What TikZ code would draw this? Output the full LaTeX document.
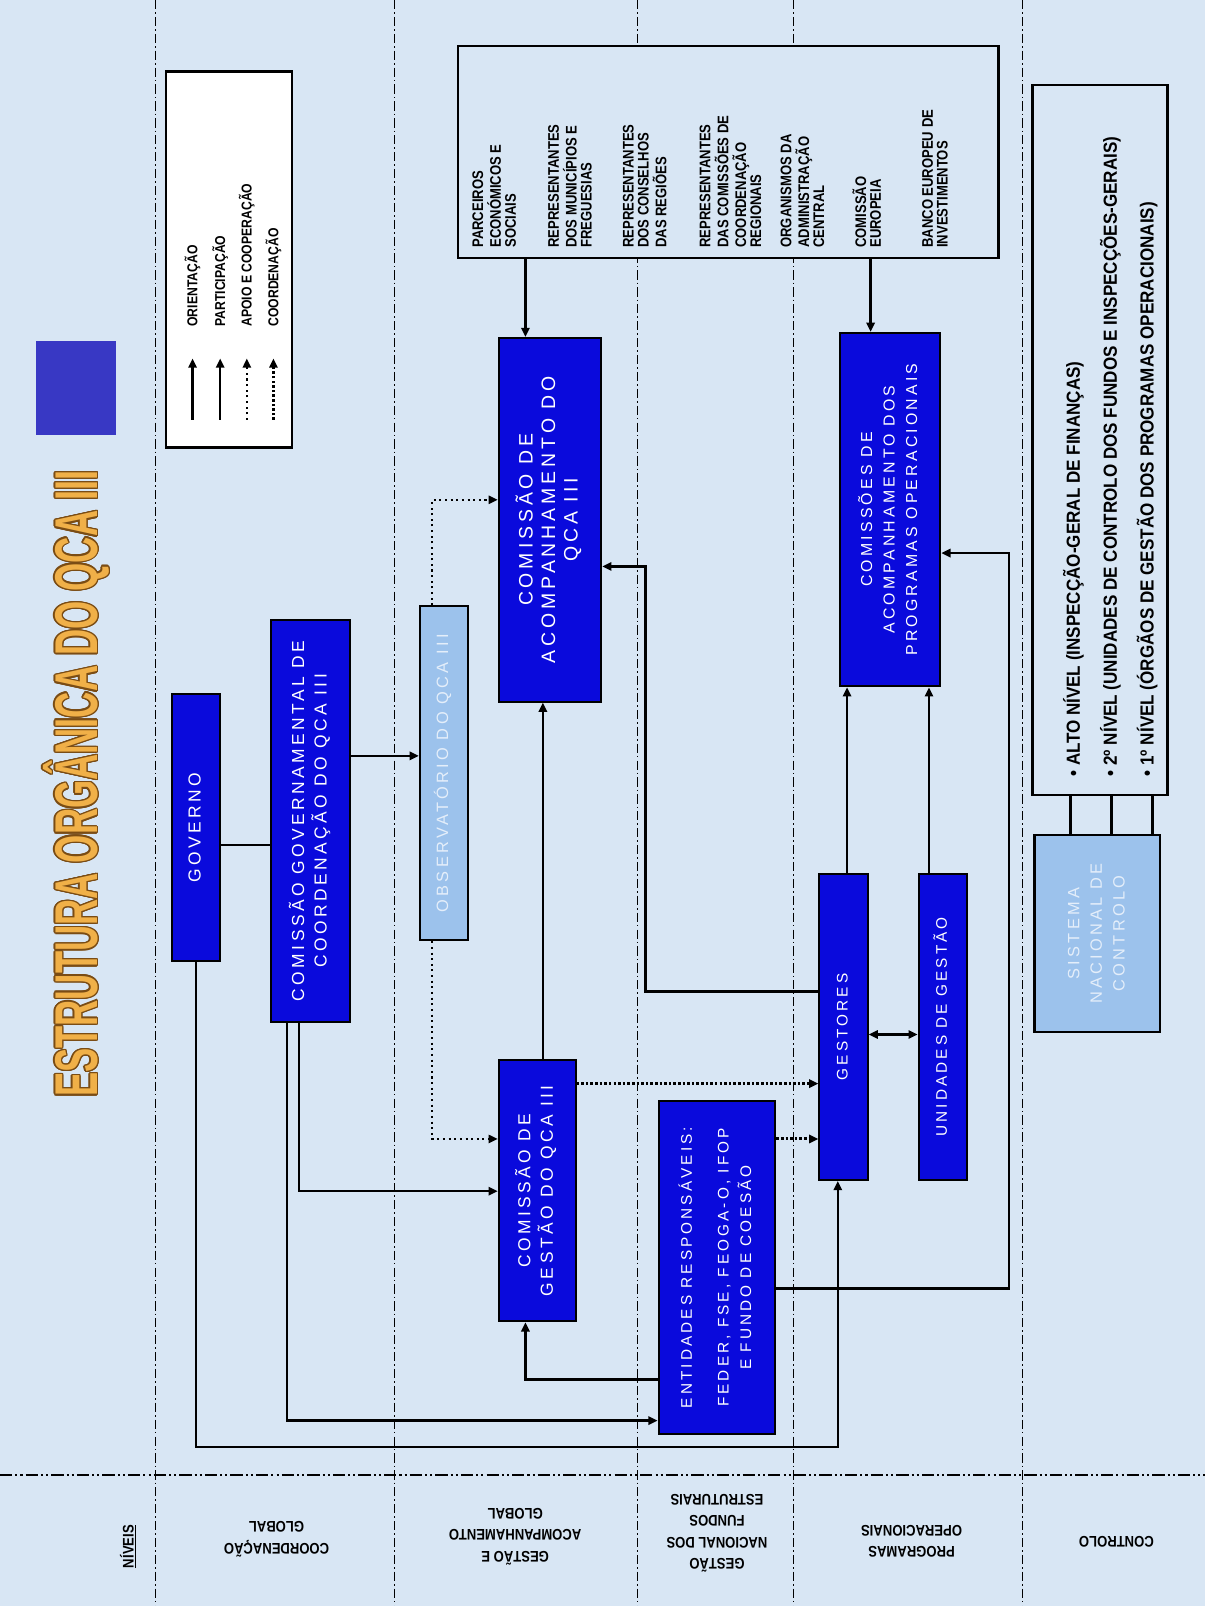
\documentclass[tikz,border=0pt]{standalone}
\usepackage{fontspec}
\setmainfont{Liberation Sans}
\usepackage[copies]{contour}
\usetikzlibrary{positioning,arrows.meta}
\definecolor{bgblue}{HTML}{D8E6F4}
\definecolor{boxblue}{HTML}{0A0ADC}
\definecolor{paleblue}{HTML}{9CC2EC}
\definecolor{paletext}{HTML}{E4EEFA}
\definecolor{squareblue}{HTML}{3838C4}
\definecolor{titlefill}{HTML}{F0B048}
\definecolor{titleline}{HTML}{7A4C14}
\newfontfamily\boxfont[LetterSpace=20]{Liberation Sans}
\newfontfamily\narrowfont[FakeStretch=0.85]{Liberation Sans}
\newfontfamily\ctrlfont[FakeStretch=0.9]{Liberation Sans}
\newfontfamily\titlefont[FakeStretch=0.6]{Liberation Sans}
\newcommand{\vtxt}[1]{\rotatebox{90}{\begin{tabular}{@{}c@{}}#1\end{tabular}}}
\newcommand{\vtxtl}[1]{\rotatebox{90}{\begin{tabular}{@{}l@{}}#1\end{tabular}}}
\contourlength{1.3pt}

\begin{document}
\begin{tikzpicture}[x=1pt,y=-1pt,
  bluebox/.style={draw=black,line width=2pt,fill=boxblue,text=white,inner sep=0pt,
    font=\boxfont\fontsize{17}{22}\selectfont},
  palebox/.style={bluebox,fill=paleblue,text=paletext},
  framebox/.style={draw=black,line width=2.5pt,fill=bgblue,inner sep=0pt},
  small/.style={inner sep=0pt,font=\narrowfont\bfseries\fontsize{14}{13}\selectfont},
  partner/.style={small,anchor=south west,font=\narrowfont\bfseries\fontsize{15}{13.5}\selectfont},
  lvl/.style={inner sep=0pt,align=center,font=\narrowfont\bfseries\fontsize{15}{21}\selectfont},
  arr/.style={-{Triangle[length=9pt,width=8pt]},line width=2.4pt},
  darr/.style={{Triangle[length=9pt,width=8pt]}-{Triangle[length=9pt,width=8pt]},line width=2.4pt},
  link/.style={line width=2.4pt},
  apoio/.style={arr,line width=2pt,dash pattern=on 2pt off 3.5pt},
  coord/.style={arr,line width=3pt,dash pattern=on 2.5pt off 2pt},
  sep/.style={line width=0.8pt,dash pattern=on 9pt off 3pt on 1.5pt off 3pt},
  hsep/.style={line width=1.2pt,dash pattern=on 12pt off 3pt on 2pt off 3pt on 2pt off 3pt}]
  % background and levels
  \fill[bgblue] (0,0) rectangle (1176,1568);
  \useasboundingbox (0,0) rectangle (1176,1568);
  \draw[sep] (152,0) -- (152,1568);
  \draw[sep] (385,0) -- (385,1568);
  \draw[sep] (622,0) -- (622,1568);
  \draw[sep] (775,0) -- (775,1568);
  \draw[sep] (998,0) -- (998,1568);
  \draw[hsep] (0,1440) -- (1176,1440);
  \node[lvl,rotate=90] (lniveis) at (125,1510) {\underline{NÍVEIS}};
  \node[lvl,rotate=180] (lcoord) at (270,1503) {COORDENAÇÃO\\GLOBAL};
  \node[lvl,rotate=180] (lgest) at (503,1500) {GESTÃO E\\ACOMPANHAMENTO\\GLOBAL};
  \node[lvl,rotate=180] (lfundos) at (700,1497) {GESTÃO\\NACIONAL DOS\\FUNDOS\\ESTRUTURAIS};
  \node[lvl,rotate=180] (lprog) at (890,1505) {PROGRAMAS\\OPERACIONAIS};
  \node[lvl,rotate=180] (lcontr) at (1090,1505) {CONTROLO};
  % title and legend
  \node[inner sep=0pt,text=titlefill,font=\titlefont\bfseries\fontsize{59}{66}\selectfont] (title) at (75,765)
    {\rotatebox{90}{\contour{titleline}{ESTRUTURA ORGÂNICA DO QCA III}}};
  \node[fill=squareblue,minimum width=78pt,minimum height=92pt,inner sep=0pt] (square) at (74,379) {};
  \node[framebox,fill=white,minimum width=123pt,minimum height=367pt] (legend) at (223.5,253.5) {};
  \draw[arr] (188,410) -- (188,350);
  \draw[arr] (215,410) -- (215,350);
  \draw[apoio] (241,410) -- (241,350);
  \draw[coord] (267,410) -- (267,350);
  \node[small,anchor=south] (lorient) at (188,319) {\rotatebox{90}{ORIENTAÇÃO}};
  \node[small,anchor=south] (lpartic) at (215,319) {\rotatebox{90}{PARTICIPAÇÃO}};
  \node[small,anchor=south] (lapoio) at (241,319) {\rotatebox{90}{APOIO E COOPERAÇÃO}};
  \node[small,anchor=south] (lcoordn) at (267,319) {\rotatebox{90}{COORDENAÇÃO}};
  % coordination and management boxes
  \node[bluebox,minimum width=47pt,minimum height=260pt] (gov) at (191.5,808) {\vtxt{GOVERNO}};
  \node[bluebox,minimum width=77pt,minimum height=393pt] (cgc) at (303.5,801.5)
    {\vtxt{COMISSÃO GOVERNAMENTAL DE\\COORDENAÇÃO DO QCA III}};
  \node[palebox,minimum width=47pt,minimum height=326pt,font=\boxfont\fontsize{16}{20}\selectfont] (obs) at (433.5,755)
    {\vtxt{OBSERVATÓRIO DO QCA III}};
  \node[bluebox,minimum width=100pt,minimum height=355pt,font=\boxfont\fontsize{19}{22}\selectfont] (cacomp) at (537,507.5)
    {\vtxt{COMISSÃO DE\\ACOMPANHAMENTO DO\\QCA III}};
  \node[bluebox,minimum width=75pt,minimum height=255pt] (cgest) at (524.5,1162.5)
    {\vtxt{COMISSÃO DE\\GESTÃO DO QCA III}};
  \node[bluebox,minimum width=114pt,minimum height=325pt,font=\boxfont\fontsize{15}{22}\selectfont] (ent) at (700,1237.5)
    {\vtxt{ENTIDADES RESPONSÁVEIS:\\[14pt]FEDER, FSE, FEOGA-O, IFOP\\E FUNDO DE COESÃO}};
  % partners
  \node[framebox,minimum width=528pt,minimum height=207pt] (parc) at (711,148.5) {};
  \node[partner] (p1) at (461,242) {\vtxtl{PARCEIROS\\ECONÓMICOS E\\SOCIAIS}};
  \node[partner] (p2) at (535,242) {\vtxtl{REPRESENTANTES\\DOS MUNICÍPIOS E\\FREGUESIAS}};
  \node[partner] (p3) at (608,242) {\vtxtl{REPRESENTANTES\\DOS CONSELHOS\\DAS REGIÕES}};
  \node[partner] (p4) at (683,242) {\vtxtl{REPRESENTANTES\\DAS COMISSÕES DE\\COORDENAÇÃO\\REGIONAIS}};
  \node[partner] (p5) at (762,242) {\vtxtl{ORGANISMOS DA\\ADMINISTRAÇÃO\\CENTRAL}};
  \node[partner] (p6) at (832,242) {\vtxtl{COMISSÃO\\EUROPEIA}};
  \node[partner] (p7) at (900,242) {\vtxtl{BANCO EUROPEU DE\\INVESTIMENTOS}};
  % operational programmes
  \node[bluebox,minimum width=98pt,minimum height=345pt,font=\boxfont\fontsize{15.5}{22}\selectfont] (cpo) at (869,497.5)
    {\vtxt{COMISSÕES DE\\ACOMPANHAMENTO DOS\\PROGRAMAS OPERACIONAIS}};
  \node[bluebox,minimum width=47pt,minimum height=299pt,font=\boxfont\fontsize{15}{20}\selectfont] (gestores) at (823.5,1002.5)
    {\vtxt{GESTORES}};
  \node[bluebox,minimum width=47pt,minimum height=299pt,font=\boxfont\fontsize{15}{20}\selectfont] (unid) at (920.5,1002.5)
    {\vtxt{UNIDADES DE GESTÃO}};
  % control
  \node[framebox,minimum width=132pt,minimum height=693pt] (ctrl) at (1074,429.5) {};
  \node[inner sep=0pt,anchor=south west,font=\ctrlfont\bfseries\fontsize{18.5}{36}\selectfont] (ctrltxt) at (1029,758)
    {\vtxtl{• ALTO NÍVEL (INSPECÇÃO-GERAL DE FINANÇAS)\\
      • 2º NÍVEL (UNIDADES DE CONTROLO DOS FUNDOS E INSPECÇÕES-GERAIS)\\
      • 1º NÍVEL (ÓRGÃOS DE GESTÃO DOS PROGRAMAS OPERACIONAIS)}};
  \node[palebox,minimum width=123pt,minimum height=193pt,font=\boxfont\fontsize{16}{22}\selectfont] (snc) at (1071.5,911.5)
    {\vtxt{SISTEMA\\NACIONAL DE\\CONTROLO}};
  \draw[link] (snc.north -| 1045,0) -- (ctrl.south -| 1045,0);
  \draw[link] (snc.north -| 1085,0) -- (ctrl.south -| 1085,0);
  \draw[link] (snc.north -| 1125,0) -- (ctrl.south -| 1125,0);
  % connectors
  \draw[arr] (parc.south -| 513,0) -- (cacomp.north -| 513,0);
  \draw[arr] (parc.south -| 850,0) -- (cpo.north -| 850,0);
  \draw[link] (gov.east |- 0,825) -- (cgc.west |- 0,825);
  \draw[arr] (cgc.east |- 0,738) -- (obs.west |- 0,738);
  \draw[apoio] (obs.north -| 422,0) |- (cacomp.west |- 0,488);
  \draw[apoio] (obs.south -| 422,0) |- (cgest.west |- 0,1112);
  \draw[arr] (cgc.south -| 292,0) |- (cgest.west |- 0,1163);
  \draw[arr] (cgc.south -| 280,0) |- (ent.west |- 0,1387);
  \draw[arr] (gov.south) -- (gov.south |- 0,1413) -| (gestores.south -| 818,0);
  \draw[arr] (cgest.north -| 530,0) -- (cacomp.south -| 530,0);
  \draw[arr] (ent.west |- 0,1347) -| (cgest.south -| 513,0);
  \draw[coord] (cgest.east |- 0,1058) -- (gestores.west |- 0,1058);
  \draw[coord] (ent.east |- 0,1112) -- (gestores.west |- 0,1112);
  \draw[arr] (gestores.west |- 0,968) -- (630,968) |- (cacomp.east |- 0,553);
  \draw[arr] (ent.east |- 0,1258) -- (985,1258) |- (cpo.east |- 0,540);
  \draw[arr] (gestores.north -| 827,0) -- (cpo.south -| 827,0);
  \draw[arr] (unid.north -| 907,0) -- (cpo.south -| 907,0);
  \draw[darr] (gestores.east |- 0,1010) -- (unid.west |- 0,1010);
\end{tikzpicture}
\end{document}
